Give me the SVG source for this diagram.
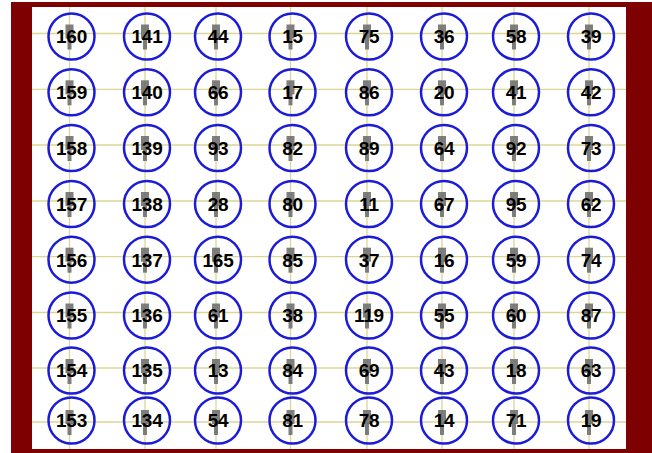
<svg xmlns="http://www.w3.org/2000/svg" width="652" height="453" viewBox="0 0 652 453">
<style>
.g{stroke:#dcd696;stroke-width:1.3;fill:none}
.c{fill:none;stroke:#1c1cd8;stroke-width:2.5}
.t{font-family:"Liberation Sans",Arial,sans-serif;font-weight:bold;font-size:19px;fill:#000;text-anchor:middle;letter-spacing:-0.3px}
.p{fill:#707070;opacity:0.9}
</style>
<defs>
<g id="pin"><rect x="-4" y="-12" width="8" height="14" class="p"/><rect x="-2" y="1" width="4" height="12" class="p"/></g>
</defs>
<rect x="0" y="0" width="652" height="453" fill="#ffffff"/>
<rect x="11" y="2" width="641" height="451" fill="#7f0000"/>
<rect x="32" y="7" width="594" height="442" fill="#ffffff"/>
<g id="grid">
<path class="g" d="M69.5 7V449M145 7V449M216 7V449M290.5 7V449M367 7V449M442 7V449M514 7V449M589 7V449"/>
<path class="g" d="M32 33.5H626M32 89.3H626M32 145H626M32 201H626M32 256.7H626M32 312.5H626M32 368H626M32 422H626"/>
</g>
<g id="connectors"></g>
<g id="nodes">
<g id="n160"><use href="#pin" x="69.5" y="36.5"/><circle cx="71.5" cy="36.5" r="23" class="c"/><text x="71.5" y="43.3" class="t">160</text></g>
<g id="n141"><use href="#pin" x="145" y="36.5"/><circle cx="147" cy="36.5" r="23" class="c"/><text x="147" y="43.3" class="t">141</text></g>
<g id="n44"><use href="#pin" x="216" y="36.5"/><circle cx="218" cy="36.5" r="23" class="c"/><text x="218" y="43.3" class="t">44</text></g>
<g id="n15"><use href="#pin" x="290.5" y="36.5"/><circle cx="292.5" cy="36.5" r="23" class="c"/><text x="292.5" y="43.3" class="t">15</text></g>
<g id="n75"><use href="#pin" x="367" y="36.5"/><circle cx="369" cy="36.5" r="23" class="c"/><text x="369" y="43.3" class="t">75</text></g>
<g id="n36"><use href="#pin" x="442" y="36.5"/><circle cx="444" cy="36.5" r="23" class="c"/><text x="444" y="43.3" class="t">36</text></g>
<g id="n58"><use href="#pin" x="514" y="36.5"/><circle cx="516" cy="36.5" r="23" class="c"/><text x="516" y="43.3" class="t">58</text></g>
<g id="n39"><use href="#pin" x="589" y="36.5"/><circle cx="591" cy="36.5" r="23" class="c"/><text x="591" y="43.3" class="t">39</text></g>

<g id="n159"><use href="#pin" x="69.5" y="92.3"/><circle cx="71.5" cy="92.3" r="23" class="c"/><text x="71.5" y="99.1" class="t">159</text></g>
<g id="n140"><use href="#pin" x="145" y="92.3"/><circle cx="147" cy="92.3" r="23" class="c"/><text x="147" y="99.1" class="t">140</text></g>
<g id="n66"><use href="#pin" x="216" y="92.3"/><circle cx="218" cy="92.3" r="23" class="c"/><text x="218" y="99.1" class="t">66</text></g>
<g id="n17"><use href="#pin" x="290.5" y="92.3"/><circle cx="292.5" cy="92.3" r="23" class="c"/><text x="292.5" y="99.1" class="t">17</text></g>
<g id="n86"><use href="#pin" x="367" y="92.3"/><circle cx="369" cy="92.3" r="23" class="c"/><text x="369" y="99.1" class="t">86</text></g>
<g id="n20"><use href="#pin" x="442" y="92.3"/><circle cx="444" cy="92.3" r="23" class="c"/><text x="444" y="99.1" class="t">20</text></g>
<g id="n41"><use href="#pin" x="514" y="92.3"/><circle cx="516" cy="92.3" r="23" class="c"/><text x="516" y="99.1" class="t">41</text></g>
<g id="n42"><use href="#pin" x="589" y="92.3"/><circle cx="591" cy="92.3" r="23" class="c"/><text x="591" y="99.1" class="t">42</text></g>

<g id="n158"><use href="#pin" x="69.5" y="148"/><circle cx="71.5" cy="148" r="23" class="c"/><text x="71.5" y="154.8" class="t">158</text></g>
<g id="n139"><use href="#pin" x="145" y="148"/><circle cx="147" cy="148" r="23" class="c"/><text x="147" y="154.8" class="t">139</text></g>
<g id="n93"><use href="#pin" x="216" y="148"/><circle cx="218" cy="148" r="23" class="c"/><text x="218" y="154.8" class="t">93</text></g>
<g id="n82"><use href="#pin" x="290.5" y="148"/><circle cx="292.5" cy="148" r="23" class="c"/><text x="292.5" y="154.8" class="t">82</text></g>
<g id="n89"><use href="#pin" x="367" y="148"/><circle cx="369" cy="148" r="23" class="c"/><text x="369" y="154.8" class="t">89</text></g>
<g id="n64"><use href="#pin" x="442" y="148"/><circle cx="444" cy="148" r="23" class="c"/><text x="444" y="154.8" class="t">64</text></g>
<g id="n92"><use href="#pin" x="514" y="148"/><circle cx="516" cy="148" r="23" class="c"/><text x="516" y="154.8" class="t">92</text></g>
<g id="n73"><use href="#pin" x="589" y="148"/><circle cx="591" cy="148" r="23" class="c"/><text x="591" y="154.8" class="t">73</text></g>

<g id="n157"><use href="#pin" x="69.5" y="204"/><circle cx="71.5" cy="204" r="23" class="c"/><text x="71.5" y="210.8" class="t">157</text></g>
<g id="n138"><use href="#pin" x="145" y="204"/><circle cx="147" cy="204" r="23" class="c"/><text x="147" y="210.8" class="t">138</text></g>
<g id="n28"><use href="#pin" x="216" y="204"/><circle cx="218" cy="204" r="23" class="c"/><text x="218" y="210.8" class="t">28</text></g>
<g id="n80"><use href="#pin" x="290.5" y="204"/><circle cx="292.5" cy="204" r="23" class="c"/><text x="292.5" y="210.8" class="t">80</text></g>
<g id="n11"><use href="#pin" x="367" y="204"/><circle cx="369" cy="204" r="23" class="c"/><text x="369" y="210.8" class="t">11</text></g>
<g id="n67"><use href="#pin" x="442" y="204"/><circle cx="444" cy="204" r="23" class="c"/><text x="444" y="210.8" class="t">67</text></g>
<g id="n95"><use href="#pin" x="514" y="204"/><circle cx="516" cy="204" r="23" class="c"/><text x="516" y="210.8" class="t">95</text></g>
<g id="n62"><use href="#pin" x="589" y="204"/><circle cx="591" cy="204" r="23" class="c"/><text x="591" y="210.8" class="t">62</text></g>

<g id="n156"><use href="#pin" x="69.5" y="259.7"/><circle cx="71.5" cy="259.7" r="23" class="c"/><text x="71.5" y="266.5" class="t">156</text></g>
<g id="n137"><use href="#pin" x="145" y="259.7"/><circle cx="147" cy="259.7" r="23" class="c"/><text x="147" y="266.5" class="t">137</text></g>
<g id="n165"><use href="#pin" x="216" y="259.7"/><circle cx="218" cy="259.7" r="23" class="c"/><text x="218" y="266.5" class="t">165</text></g>
<g id="n85"><use href="#pin" x="290.5" y="259.7"/><circle cx="292.5" cy="259.7" r="23" class="c"/><text x="292.5" y="266.5" class="t">85</text></g>
<g id="n37"><use href="#pin" x="367" y="259.7"/><circle cx="369" cy="259.7" r="23" class="c"/><text x="369" y="266.5" class="t">37</text></g>
<g id="n16"><use href="#pin" x="442" y="259.7"/><circle cx="444" cy="259.7" r="23" class="c"/><text x="444" y="266.5" class="t">16</text></g>
<g id="n59"><use href="#pin" x="514" y="259.7"/><circle cx="516" cy="259.7" r="23" class="c"/><text x="516" y="266.5" class="t">59</text></g>
<g id="n74"><use href="#pin" x="589" y="259.7"/><circle cx="591" cy="259.7" r="23" class="c"/><text x="591" y="266.5" class="t">74</text></g>

<g id="n155"><use href="#pin" x="69.5" y="315.5"/><circle cx="71.5" cy="315.5" r="23" class="c"/><text x="71.5" y="322.3" class="t">155</text></g>
<g id="n136"><use href="#pin" x="145" y="315.5"/><circle cx="147" cy="315.5" r="23" class="c"/><text x="147" y="322.3" class="t">136</text></g>
<g id="n61"><use href="#pin" x="216" y="315.5"/><circle cx="218" cy="315.5" r="23" class="c"/><text x="218" y="322.3" class="t">61</text></g>
<g id="n38"><use href="#pin" x="290.5" y="315.5"/><circle cx="292.5" cy="315.5" r="23" class="c"/><text x="292.5" y="322.3" class="t">38</text></g>
<g id="n119"><use href="#pin" x="367" y="315.5"/><circle cx="369" cy="315.5" r="23" class="c"/><text x="369" y="322.3" class="t">119</text></g>
<g id="n55"><use href="#pin" x="442" y="315.5"/><circle cx="444" cy="315.5" r="23" class="c"/><text x="444" y="322.3" class="t">55</text></g>
<g id="n60"><use href="#pin" x="514" y="315.5"/><circle cx="516" cy="315.5" r="23" class="c"/><text x="516" y="322.3" class="t">60</text></g>
<g id="n87"><use href="#pin" x="589" y="315.5"/><circle cx="591" cy="315.5" r="23" class="c"/><text x="591" y="322.3" class="t">87</text></g>

<g id="n154"><use href="#pin" x="69.5" y="371"/><circle cx="71.5" cy="370.5" r="23" class="c"/><text x="71.5" y="377.3" class="t">154</text></g>
<g id="n135"><use href="#pin" x="145" y="371"/><circle cx="147" cy="370.5" r="23" class="c"/><text x="147" y="377.3" class="t">135</text></g>
<g id="n13"><use href="#pin" x="216" y="371"/><circle cx="218" cy="370.5" r="23" class="c"/><text x="218" y="377.3" class="t">13</text></g>
<g id="n84"><use href="#pin" x="290.5" y="371"/><circle cx="292.5" cy="370.5" r="23" class="c"/><text x="292.5" y="377.3" class="t">84</text></g>
<g id="n69"><use href="#pin" x="367" y="371"/><circle cx="369" cy="370.5" r="23" class="c"/><text x="369" y="377.3" class="t">69</text></g>
<g id="n43"><use href="#pin" x="442" y="371"/><circle cx="444" cy="370.5" r="23" class="c"/><text x="444" y="377.3" class="t">43</text></g>
<g id="n18"><use href="#pin" x="514" y="371"/><circle cx="516" cy="370.5" r="23" class="c"/><text x="516" y="377.3" class="t">18</text></g>
<g id="n63"><use href="#pin" x="589" y="371"/><circle cx="591" cy="370.5" r="23" class="c"/><text x="591" y="377.3" class="t">63</text></g>

<g id="n153"><use href="#pin" x="69.5" y="422"/><circle cx="71.5" cy="420.5" r="23" class="c"/><text x="71.5" y="427.3" class="t">153</text></g>
<g id="n134"><use href="#pin" x="145" y="422"/><circle cx="147" cy="420.5" r="23" class="c"/><text x="147" y="427.3" class="t">134</text></g>
<g id="n54"><use href="#pin" x="216" y="422"/><circle cx="218" cy="420.5" r="23" class="c"/><text x="218" y="427.3" class="t">54</text></g>
<g id="n81"><use href="#pin" x="290.5" y="422"/><circle cx="292.5" cy="420.5" r="23" class="c"/><text x="292.5" y="427.3" class="t">81</text></g>
<g id="n78"><use href="#pin" x="367" y="422"/><circle cx="369" cy="420.5" r="23" class="c"/><text x="369" y="427.3" class="t">78</text></g>
<g id="n14"><use href="#pin" x="442" y="422"/><circle cx="444" cy="420.5" r="23" class="c"/><text x="444" y="427.3" class="t">14</text></g>
<g id="n71"><use href="#pin" x="514" y="422"/><circle cx="516" cy="420.5" r="23" class="c"/><text x="516" y="427.3" class="t">71</text></g>
<g id="n19"><use href="#pin" x="589" y="422"/><circle cx="591" cy="420.5" r="23" class="c"/><text x="591" y="427.3" class="t">19</text></g>
</g>
</svg>
